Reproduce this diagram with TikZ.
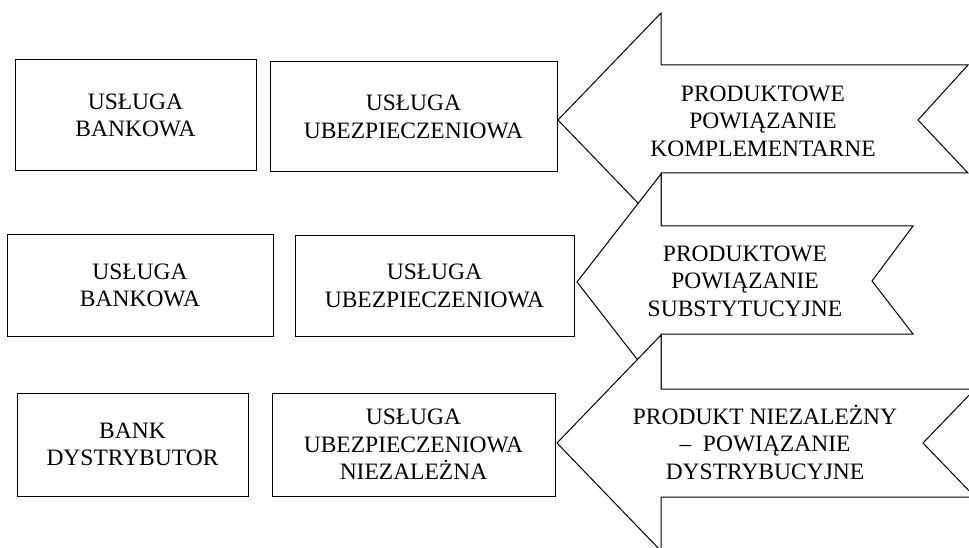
\documentclass[tikz,border=0pt]{standalone}
\usepackage{fontspec}
\setmainfont{Liberation Serif}
\tikzset{
  box/.style={draw,line width=1pt,align=center,inner sep=0pt},
  arr/.style={draw,fill=white,line width=1pt,line join=miter},
  lbl/.style={align=center,inner sep=0pt}
}
\begin{document}
\begin{tikzpicture}[x=1pt,y=-1pt,font=\fontsize{23.5}{27.5}\selectfont]
\useasboundingbox (0,0) rectangle (969,548);
\draw[arr](558,120)--(661,13)--(661,65)--(968,65)--(918,120)--(968,173)--(661,173)--(661,227)--cycle;
\draw[arr](577,282)--(661,174)--(661,226)--(913,226)--(872,281)--(913,334)--(661,334)--(661,390)--cycle;
\draw[arr](557,443)--(661,335)--(661,389)--(975,389)--(923,443)--(975,497)--(661,497)--(661,551)--cycle;
\node[lbl](k1) at (763,121) {PRODUKTOWE\\POWIĄZANIE\\KOMPLEMENTARNE};
\node[lbl](k2) at (745,281) {PRODUKTOWE\\POWIĄZANIE\\SUBSTYTUCYJNE};
\node[lbl](k3) at (765,442) {PRODUKT NIEZALEŻNY\\--\ \ POWIĄZANIE\\DYSTRYBUCYJNE};
\node[box,minimum width=241,minimum height=111](b1) at (135.5,115.5) {USŁUGA\\BANKOWA};
\node[box,minimum width=287,minimum height=110](u1) at (413.5,117) {USŁUGA\\UBEZPIECZENIOWA};
\node[box,minimum width=266,minimum height=101](b2) at (140,285.5) {USŁUGA\\BANKOWA};
\node[box,minimum width=279,minimum height=100](u2) at (434.5,286) {USŁUGA\\UBEZPIECZENIOWA};
\node[box,minimum width=231,minimum height=103](b3) at (132.5,444.5) {BANK\\DYSTRYBUTOR};
\node[box,minimum width=283,minimum height=103](u3) at (413.5,444.5) {USŁUGA\\UBEZPIECZENIOWA\\NIEZALEŻNA};
\end{tikzpicture}
\end{document}
